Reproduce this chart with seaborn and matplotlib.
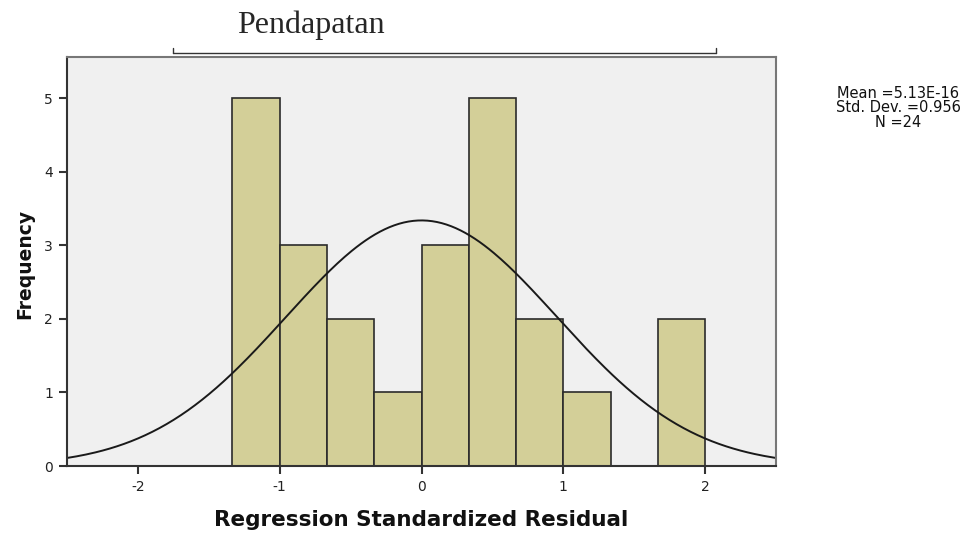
"""
Histogram of regression standardized residuals with fitted normal curve.
"""
import numpy as np
import pandas as pd
import matplotlib
matplotlib.use("Agg")
import matplotlib.pyplot as plt
import seaborn as sns

# ── Data ────────────────────────────────────────────────────────────────────
bin_edges = [-4 / 3, -1, -2 / 3, -1 / 3, 0, 1 / 3, 2 / 3, 1, 4 / 3, 5 / 3, 2]
bin_counts = [5, 3, 2, 1, 3, 5, 2, 1, 0, 2]
resid_mean = 5.13e-16
resid_sd = 0.956
n_obs = 24
stats_lines = ["Mean =5.13E-16", "Std. Dev. =0.956", "N =24"]
x_ticks = [-2, -1, 0, 1, 2]
y_ticks = [0, 1, 2, 3, 4, 5]

sns.set_style("white")
plt.rcParams["font.family"] = ["DejaVu Sans"]
plt.rcParams["axes.unicode_minus"] = False

fig = plt.figure(figsize=(9.77, 5.36), dpi=100)
ax = fig.add_axes([67 / 977, 1 - 466 / 536, (776 - 67) / 977, (466 - 57) / 536])
ax.set_facecolor("#f0f0f0")

centers = [(a + b) / 2 for a, b in zip(bin_edges[:-1], bin_edges[1:])]
hist_df = pd.DataFrame({"resid": centers, "count": bin_counts})
sns.histplot(data=hist_df, x="resid", weights="count", bins=bin_edges, ax=ax,
             color="#d3cf98", alpha=1.0, edgecolor="#2b2b2b", linewidth=1.2)

# fitted normal curve scaled to counts (bin width 1/3)
bw = bin_edges[1] - bin_edges[0]
xs = np.linspace(-2.5, 2.5, 300)
ys = n_obs * bw / (resid_sd * np.sqrt(2 * np.pi)) * np.exp(-0.5 * ((xs - resid_mean) / resid_sd) ** 2)
sns.lineplot(x=xs, y=ys, ax=ax, color="#1a1a1a", lw=1.4)

ax.set_xlim(-2.5, 2.5)
ax.set_ylim(0, 5.56)
ax.set_xticks(x_ticks)
ax.set_yticks(y_ticks)
ax.tick_params(axis="both", direction="out", length=6, width=1.5, color="#333333",
               labelsize=10, pad=4, bottom=True, left=True, labelcolor="#222222")
for side in ["top", "right"]:
    ax.spines[side].set_color("#777777")
    ax.spines[side].set_linewidth(1.5)
for side in ["left", "bottom"]:
    ax.spines[side].set_color("#333333")
    ax.spines[side].set_linewidth(1.5)

ax.set_xlabel("Regression Standardized Residual", fontsize=15.5, fontweight="bold",
              color="#111111")
ax.set_ylabel("Frequency", fontsize=13.5, fontweight="bold", color="#111111")
ax.xaxis.set_label_coords((421 - 67) / (776 - 67), -(520 - 466) / (466 - 57))
ax.yaxis.set_label_coords(-(67 - 25) / (776 - 67), (466 - 264) / (466 - 57))
ax.xaxis.label.set_va("center")
ax.yaxis.label.set_va("center")

# ── Title bracket ───────────────────────────────────────────────────────────
fig.text(311 / 977, 1 - 25 / 536, "Pendapatan", ha="center", va="center",
         fontsize=23, family="Liberation Serif")
bx0, bx1, by = 173 / 977, 716 / 977, 1 - 53 / 536
fig.add_artist(plt.Line2D([bx0, bx1], [by, by], color="#333333", lw=1, transform=fig.transFigure))
for bx in (bx0, bx1):
    fig.add_artist(plt.Line2D([bx, bx], [by, by + 5 / 536], color="#333333", lw=1,
                              transform=fig.transFigure))

# ── Stats box ───────────────────────────────────────────────────────────────
fig.text(898 / 977, 1 - 108 / 536, "\n".join(stats_lines), ha="center", va="center",
         fontsize=10.5, linespacing=0.95, color="#111111")

fig.savefig("out.png", dpi=100)
